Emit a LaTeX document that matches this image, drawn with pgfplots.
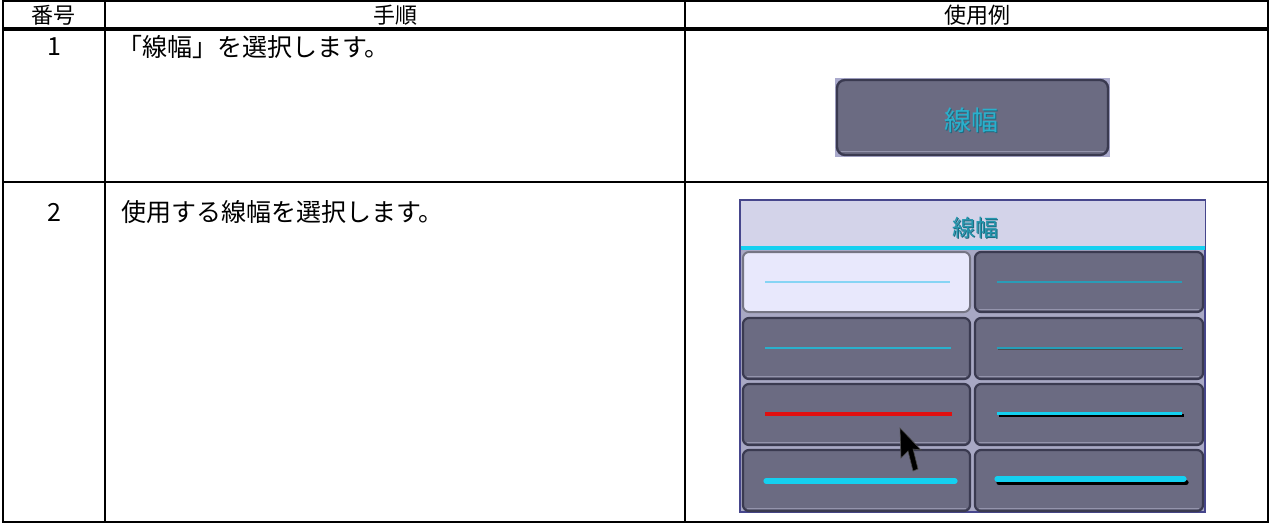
\documentclass[border=0pt]{standalone}
\usepackage{pgfplots}
\pgfplotsset{compat=1.18}
\usepackage{fontspec}
\setmainfont{Liberation Sans}
\newfontfamily\jp{Noto Sans CJK JP}
\definecolor{btn}{HTML}{6B6B82}
\definecolor{btnedge}{HTML}{3A3A50}
\definecolor{btnhi}{HTML}{9494AC}
\definecolor{panelbg}{HTML}{A8A8C4}
\definecolor{panelhd}{HTML}{D3D3E9}
\definecolor{paneledge}{HTML}{46468C}
\definecolor{sel}{HTML}{E8E8FC}
\definecolor{cyanline}{HTML}{14D0F0}
\definecolor{lbl}{HTML}{2AB0CC}
\definecolor{lbldark}{HTML}{1E6A80}
\definecolor{outerlav}{HTML}{AAAACC}
\definecolor{redline}{HTML}{E01010}
\definecolor{thinlight}{HTML}{86D4F4}
\definecolor{thinteal}{HTML}{2A9CB6}
\newcommand{\rect}[5]{\addplot[#5] coordinates {(#1,#2) (#3,#2) (#3,#4) (#1,#4)} -- cycle;}
\newcommand{\seg}[5]{\addplot[#5] coordinates {(#1,#2) (#3,#4)};}
\newcommand{\gbtn}[5]{%
  \rect{#1}{#2}{#3}{#4}{draw=btnedge, fill=#5, line width=1.1pt, rounded corners=3pt}
  \seg{#1+4}{#4-2.5}{#3-4}{#4-2.5}{btnhi, line width=0.5pt}
}
\newcommand{\tf}{\jp\fontsize{11}{13}\selectfont}
\newcommand{\bodyf}{\jp\fontsize{12.5}{14}\selectfont}
\begin{document}
\begin{tikzpicture}
\begin{axis}[
  width=636.5pt, height=262.5pt, scale only axis,
  xmin=0, xmax=1273, ymin=0, ymax=525, y dir=reverse,
  hide axis, clip=false,
  every node/.style={inner sep=0pt},
]
% ---- table grid ----
\rect{3}{1}{1268}{522}{black, line width=0.75pt}
\seg{3}{29}{1268}{29}{black, line width=1.6pt}
\seg{3}{182}{1268}{182}{black, line width=0.8pt}
\seg{105}{1}{105}{522}{black, line width=0.8pt}
\seg{685}{1}{685}{522}{black, line width=0.8pt}
% ---- header texts ----
\node[font=\tf] at (axis cs:54,15.5) {番号};
\node[font=\tf] at (axis cs:395,15.5) {手順};
\node[font=\tf] at (axis cs:977,15.5) {使用例};
% ---- row texts ----
\node[font=\bodyf] at (axis cs:54,47) {1};
\node[font=\bodyf, anchor=west] at (axis cs:110,47) {「線幅」を選択します。};
\node[font=\bodyf] at (axis cs:54,212) {2};
\node[font=\bodyf, anchor=west] at (axis cs:114,212) {使用する線幅を選択します。};
% ---- example 1: button ----
\rect{835}{78}{1110}{157}{draw=none, fill=outerlav}
\rect{837}{80}{1108}{155}{draw=btnedge, fill=btn, line width=1.2pt, rounded corners=4pt}
\seg{841}{151.5}{1104}{151.5}{btnhi, line width=0.6pt}
\node[font=\jp\fontsize{13.5}{15}\selectfont, text=lbldark] at (axis cs:972.5,121.5) {線幅};
\node[font=\jp\fontsize{13.5}{15}\selectfont, text=lbl] at (axis cs:971,120) {線幅};
% ---- example 2: panel ----
\rect{740}{200}{1205}{512}{draw=paneledge, fill=panelbg, line width=0.6pt}
\rect{740.5}{200.5}{1204.5}{247}{draw=none, fill=panelhd}
\seg{740.5}{248}{1204.5}{248}{cyanline, line width=1.6pt}
\node[font=\jp\fontsize{11.5}{13}\selectfont, text=lbldark] at (axis cs:976,229) {線幅};
\node[font=\jp\fontsize{11.5}{13}\selectfont, text=lbl!85!black] at (axis cs:975,228) {線幅};
% buttons
\rect{743}{252}{970}{312}{draw=btnedge!70, fill=sel, line width=1.0pt, rounded corners=3pt}
\gbtn{975}{252}{1203}{312}{btn}
\gbtn{743}{318}{970}{379}{btn}
\gbtn{975}{318}{1203}{379}{btn}
\gbtn{743}{384}{970}{445}{btn}
\gbtn{975}{384}{1203}{445}{btn}
\gbtn{743}{450}{970}{511}{btn}
\gbtn{975}{450}{1203}{511}{btn}
% line samples
\seg{765}{282}{950}{282}{color=thinlight, line width=0.8pt}
\seg{997}{282}{1182}{282}{color=thinteal, line width=0.8pt}
\seg{765}{348}{951}{348}{color=lbl, line width=1.0pt}
\seg{998}{349.5}{1183}{349.5}{color=black!70, line width=0.6pt}
\seg{997}{348}{1182}{348}{color=lbl!90!black, line width=1.0pt}
\seg{765}{414}{952}{414}{color=redline, line width=1.7pt}
\seg{998.5}{415.5}{1184}{415.5}{color=black, line width=1.5pt}
\seg{997}{413.5}{1182}{413.5}{color=cyanline, line width=1.6pt}
\seg{766}{481}{955}{481}{color=cyanline, line width=2.6pt, line cap=round}
\seg{999}{482.5}{1186}{482.5}{color=black, line width=2.6pt, line cap=round}
\seg{997}{479}{1184}{479}{color=cyanline, line width=2.6pt, line cap=round}
% cursor
\addplot[fill=black, draw=black!70, line width=0.3pt] coordinates {(900,428) (901,458) (908,451) (913,471) (918,469) (913,449) (921,450)} -- cycle;
\end{axis}
\pgfresetboundingbox
\useasboundingbox (current axis.south west) rectangle (current axis.north east);
\end{tikzpicture}
\end{document}
